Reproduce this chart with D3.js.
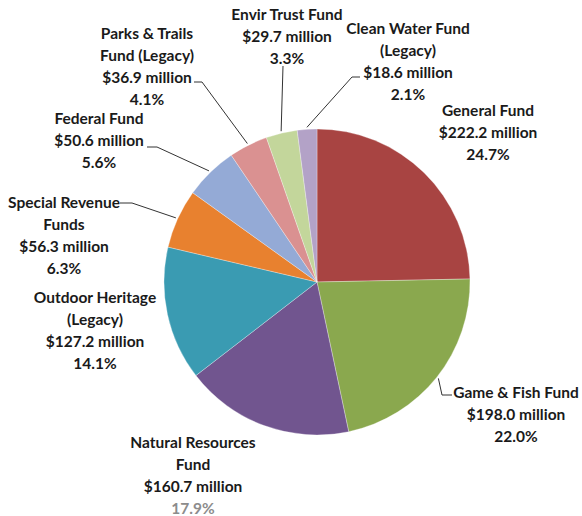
<!DOCTYPE html>
<html lang="en">
<head>
<meta charset="UTF-8">
<title>Fund sources</title>
<script src="https://d3js.org/d3.v7.min.js"></script>
<style>
    body { margin: 0; background: #fff; overflow: hidden; }
    svg text { font-family: Lato, "Open Sans", sans-serif; font-weight: bold; font-size: 15.5px; fill: #1a1a1a; }
</style>
</head>
<body>
<div id="chart"></div>
<script>
// Data
const funds = ["General Fund", "Game & Fish Fund", "Natural Resources Fund", "Outdoor Heritage (Legacy)",
    "Special Revenue Funds", "Federal Fund", "Parks & Trails Fund (Legacy)", "Envir Trust Fund", "Clean Water Fund (Legacy)"];
const amounts = [222.2, 198.0, 160.7, 127.2, 56.3, 50.6, 36.9, 29.7, 18.6];
const percents = ["24.7%", "22.0%", "17.9%", "14.1%", "6.3%", "5.6%", "4.1%", "3.3%", "2.1%"];
// how each fund name is broken over lines
const nameLines = [
    ["General Fund"],
    ["Game & Fish Fund"],
    ["Natural Resources", "Fund"],
    ["Outdoor Heritage", "(Legacy)"],
    ["Special Revenue", "Funds"],
    ["Federal Fund"],
    ["Parks & Trails", "Fund (Legacy)"],
    ["Envir Trust Fund"],
    ["Clean Water Fund", "(Legacy)"]
];
const colors = ["#a84442", "#8aa84e", "#71558f", "#3a9bb2", "#e8812f", "#94aad6", "#da9191", "#c3d69b", "#b3a2c7"];

// label layout: centre x, first line y, leader knee and tick end (null = no leader)
const labelLayout = [
    { x: 488, y: 110, knee: null },
    { x: 516, y: 392, knee: [442, 395], tick: 452 },
    { x: 193, y: 442, knee: null },
    { x: 95, y: 297, knee: null },
    { x: 64, y: 202, knee: [132, 203], tick: 120 },
    { x: 99, y: 118, knee: [157, 147], tick: 147 },
    { x: 147, y: 33, knee: [202, 82], tick: 194 },
    { x: 287, y: 14, knee: [283, 66], tick: 283 },
    { x: 408, y: 28, knee: [352, 77], tick: 360 }
];

const width = 582, height = 516;
const cx = 317, cy = 282, radius = 153;
const lineH = 22;

const svg = d3.select("#chart").append("svg")
    .attr("width", width)
    .attr("height", height);

const pie = d3.pie().sort(null).value(d => d);
const arcs = pie(amounts);

const arc = d3.arc().innerRadius(0).outerRadius(radius);

const g = svg.append("g").attr("transform", `translate(${cx},${cy})`);

g.selectAll("path")
    .data(arcs)
    .enter().append("path")
    .attr("d", arc)
    .attr("fill", (d, i) => colors[i])
    .attr("stroke", "rgba(255,255,255,0.5)")
    .attr("stroke-width", 0.6);

// leader lines from slice edge to label
const edge = d3.arc().innerRadius(radius + 2).outerRadius(radius + 2);
arcs.forEach((d, i) => {
    const lay = labelLayout[i];
    if (!lay.knee) return;
    const p = edge.centroid(d);
    const pts = [[p[0] + cx, p[1] + cy], lay.knee, [lay.tick, lay.knee[1]]];
    svg.append("path")
        .attr("d", d3.line()(pts))
        .attr("fill", "none")
        .attr("stroke", "#333")
        .attr("stroke-width", 1);
});

// labels
funds.forEach((f, i) => {
    const lay = labelLayout[i];
    const lines = nameLines[i].concat(["$" + amounts[i].toFixed(1) + " million", percents[i]]);
    const t = svg.append("text")
        .attr("text-anchor", "middle")
        .attr("dominant-baseline", "central");
    lines.forEach((ln, k) => {
        t.append("tspan")
            .attr("x", lay.x)
            .attr("y", lay.y + k * lineH)
            .style("fill", (i === 2 && k === lines.length - 1) ? "#8c8c8c" : null)
            .text(ln);
    });
});
</script>
</body>
</html>
